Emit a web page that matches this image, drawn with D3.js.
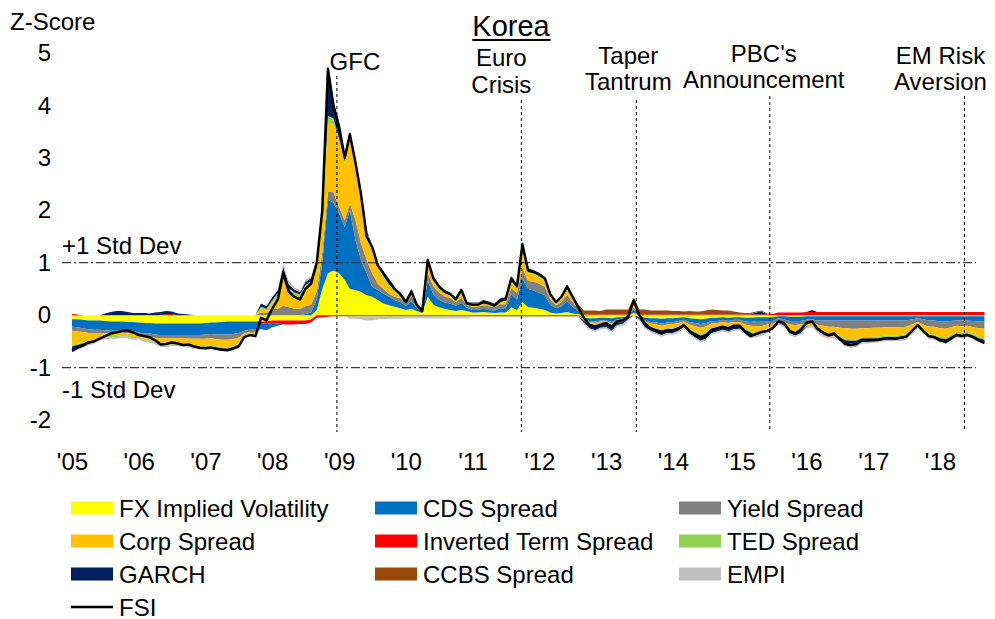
<!DOCTYPE html>
<html>
<head>
<meta charset="utf-8">
<script src="https://cdn.jsdelivr.net/npm/d3@7"></script>
<style>
  body { margin: 0; background: #fff; }
  text { font-family: "Liberation Sans", Arial, sans-serif; fill: #000; }
</style>
</head>
<body>
<svg id="chart" width="995" height="619"></svg>
<script>
///////// Monthly readings, Jan 2005 .. Sep 2018 (one row per year)
var fxVol = [
  -0.08,-0.08,-0.09,-0.10,-0.10,-0.10,-0.11,-0.12,-0.12,-0.12,-0.13,-0.13,
  -0.14,-0.15,-0.15,-0.16,-0.16,-0.16,-0.16,-0.16,-0.16,-0.16,-0.16,-0.16,
  -0.15,-0.14,-0.14,-0.13,-0.12,-0.12,-0.12,-0.12,-0.12,-0.12,-0.12,-0.12,
  -0.10,-0.10,-0.10,-0.10,-0.10,-0.10,-0.10,-0.08,0.10,0.50,0.80,0.85,
  0.80,0.67,0.50,0.48,0.44,0.38,0.35,0.29,0.22,0.19,0.16,0.13,
  0.10,0.12,0.08,0.04,0.35,0.20,0.15,0.12,0.10,0.08,0.10,0.08,
  0.05,0.05,0.06,0.05,0.04,0.05,0.05,0.15,0.10,0.25,0.15,0.14,
  0.12,0.10,0.05,0.03,0.04,0.06,0.03,0.02,-0.05,-0.06,-0.06,-0.05,
  -0.05,-0.06,-0.04,-0.04,-0.02,0.04,-0.02,-0.05,-0.06,-0.06,-0.07,-0.06,
  -0.06,-0.05,-0.04,-0.06,-0.07,-0.08,-0.07,-0.05,-0.05,-0.04,-0.05,-0.04,
  -0.04,-0.05,-0.05,-0.04,-0.04,-0.04,-0.04,-0.02,-0.02,-0.03,-0.03,-0.03,
  -0.02,-0.02,-0.02,-0.02,-0.02,-0.02,-0.02,-0.02,-0.02,-0.02,-0.02,-0.02,
  -0.02,-0.02,-0.02,-0.02,-0.02,-0.02,-0.02,-0.02,-0.02,-0.02,-0.02,-0.02,
  -0.02,-0.02,-0.02,-0.02,-0.02,-0.02,-0.02,-0.02,-0.02
]
var termSpread = [
  0.02,0.01,0,0,0,0,0,0,0,0,0,0,
  0,0,0,0,0,0.02,0.02,0,0,0,0,0,
  0,0,0,0,0,0,0,0,0,0,-0.03,-0.05,
  -0.05,-0.06,-0.08,-0.08,-0.08,-0.07,-0.07,-0.06,-0.05,-0.04,-0.03,-0.02,
  -0.02,-0.02,-0.02,-0.02,-0.02,-0.02,-0.02,-0.02,-0.02,-0.02,-0.02,-0.02,
  -0.02,-0.02,-0.02,-0.02,-0.02,-0.02,-0.02,-0.02,-0.02,-0.02,-0.02,-0.02,
  -0.02,-0.02,-0.02,-0.02,-0.02,-0.02,-0.02,-0.02,-0.02,-0.02,-0.02,-0.02,
  -0.02,-0.02,-0.02,-0.02,-0.02,-0.02,-0.02,-0.02,0.01,0.01,0.01,0.01,
  0.01,0.01,0.01,0.01,0.01,0.01,0.01,0.01,0.01,0.01,0.01,0.01,
  0.01,0.01,0.01,0.01,0.01,0.01,0.01,0.01,0.01,0.01,0.01,0.01,
  0.01,0.01,0.01,0.01,0.01,0.01,0.02,0.05,0.05,0.05,0.05,0.05,
  0.06,0.06,0.06,0.06,0.06,0.06,0.06,0.06,0.06,0.06,0.06,0.06,
  0.06,0.06,0.06,0.06,0.06,0.06,0.06,0.06,0.06,0.06,0.06,0.06,
  0.06,0.06,0.06,0.06,0.06,0.06,0.06,0.06,0.06
]
var cdsSpread = [
  -0.14,-0.15,-0.16,-0.17,-0.18,-0.18,-0.18,-0.18,-0.18,-0.17,-0.16,-0.17,
  -0.19,-0.20,-0.20,-0.21,-0.22,-0.22,-0.22,-0.22,-0.22,-0.22,-0.22,-0.22,
  -0.22,-0.22,-0.23,-0.24,-0.25,-0.24,-0.22,-0.18,-0.16,-0.16,-0.12,-0.12,
  -0.08,-0.04,0.00,0.00,0.00,0.00,0.02,0.05,0.20,0.50,1.40,1.30,
  1.14,1.01,1.50,0.95,0.61,0.42,0.19,0.19,0.19,0.16,0.13,0.12,
  0.08,0.15,0.06,0.03,0.30,0.20,0.15,0.12,0.12,0.10,0.13,0.06,
  0.05,0.05,0.06,0.05,0.05,0.08,0.08,0.25,0.20,0.45,0.35,0.33,
  0.30,0.28,0.15,0.10,0.13,0.20,0.13,0.06,-0.03,-0.05,-0.06,-0.05,
  -0.05,-0.07,-0.04,-0.03,-0.01,0.06,-0.01,-0.05,-0.07,-0.08,-0.09,-0.08,
  -0.07,-0.06,-0.05,-0.07,-0.08,-0.09,-0.08,-0.06,-0.06,-0.05,-0.06,-0.05,
  -0.05,-0.07,-0.08,-0.07,-0.07,-0.07,-0.07,-0.04,-0.06,-0.08,-0.08,-0.08,
  -0.07,-0.06,-0.08,-0.08,-0.08,-0.08,-0.08,-0.08,-0.08,-0.08,-0.08,-0.08,
  -0.08,-0.08,-0.08,-0.08,-0.08,-0.08,-0.08,-0.06,-0.04,-0.06,-0.08,-0.08,
  -0.10,-0.10,-0.09,-0.08,-0.08,-0.08,-0.09,-0.10,-0.10
]
var yieldSpread = [
  -0.08,-0.08,-0.07,-0.07,-0.06,-0.06,-0.05,-0.05,-0.05,-0.05,-0.05,-0.06,
  -0.06,-0.06,-0.06,-0.06,-0.06,-0.06,-0.06,-0.06,-0.06,-0.07,-0.07,-0.07,
  -0.08,-0.08,-0.09,-0.10,-0.10,-0.10,-0.09,-0.05,-0.04,-0.04,0.05,0.04,
  0.12,0.12,0.18,0.15,0.12,0.12,0.15,0.15,0.15,0.20,0.15,0.20,
  0.12,0.13,0.13,0.38,0.32,0.25,0.26,0.12,0.09,0.06,0.06,0.07,
  0.06,0.10,0.05,0.02,0.15,0.15,0.13,0.12,0.10,0.07,0.10,0.05,
  0.06,0.06,0.07,0.07,0.06,0.08,0.08,0.12,0.12,0.20,0.15,0.17,
  0.18,0.16,0.10,0.06,0.08,0.13,0.09,0.05,0.00,-0.02,-0.03,-0.02,
  -0.02,-0.03,-0.02,-0.02,0.00,0.04,0.00,-0.02,-0.03,-0.04,-0.04,-0.04,
  -0.04,-0.04,-0.03,-0.05,-0.06,-0.07,-0.06,-0.05,-0.04,-0.04,-0.04,-0.04,
  -0.04,-0.06,-0.07,-0.10,-0.10,-0.07,-0.06,-0.05,-0.05,-0.07,-0.08,-0.07,
  -0.06,-0.06,-0.08,-0.10,-0.12,-0.12,-0.14,-0.15,-0.16,-0.16,-0.15,-0.15,
  -0.14,-0.14,-0.13,-0.13,-0.13,-0.13,-0.12,-0.10,-0.07,-0.10,-0.12,-0.12,
  -0.13,-0.14,-0.12,-0.10,-0.11,-0.10,-0.12,-0.13,-0.14
]
var corpSpread = [
  -0.28,-0.24,-0.20,-0.15,-0.14,-0.10,-0.07,-0.05,-0.05,-0.04,-0.05,-0.06,
  -0.02,-0.05,-0.06,-0.08,-0.12,-0.12,-0.10,-0.10,-0.12,-0.12,-0.14,-0.15,
  -0.14,-0.14,-0.14,-0.14,-0.15,-0.13,-0.12,-0.04,-0.03,-0.05,0.08,0.05,
  0.12,0.24,0.55,0.30,0.25,0.23,0.34,0.39,0.40,0.60,1.30,1.30,
  1.27,1.09,1.27,1.14,1.01,0.55,0.44,0.32,0.20,0.13,0.09,0.06,
  0.03,0.06,0.03,0.01,0.15,0.10,0.08,0.06,0.05,0.03,0.08,0.02,
  0.04,0.04,0.05,0.04,0.03,0.05,0.07,0.12,0.10,0.30,0.15,0.14,
  0.12,0.10,0.06,0.04,0.06,0.10,0.06,0.03,-0.02,-0.05,-0.06,-0.05,
  -0.04,-0.06,-0.03,-0.03,-0.01,0.05,-0.01,-0.04,-0.06,-0.07,-0.08,-0.07,
  -0.08,-0.07,-0.05,-0.08,-0.10,-0.12,-0.11,-0.08,-0.07,-0.07,-0.07,-0.06,
  -0.06,-0.08,-0.10,-0.15,-0.14,-0.09,-0.05,-0.03,-0.03,-0.10,-0.12,-0.10,
  -0.05,-0.05,-0.08,-0.12,-0.14,-0.12,-0.16,-0.20,-0.20,-0.20,-0.17,-0.17,
  -0.17,-0.17,-0.16,-0.16,-0.16,-0.15,-0.14,-0.10,-0.06,-0.10,-0.14,-0.15,
  -0.16,-0.17,-0.15,-0.12,-0.13,-0.12,-0.13,-0.16,-0.18
]
var tedSpread = [
  -0.02,-0.02,-0.02,-0.02,-0.02,-0.02,-0.02,-0.02,-0.02,-0.02,-0.02,-0.02,
  -0.02,-0.02,-0.02,-0.02,-0.02,-0.02,-0.02,-0.02,-0.02,-0.02,-0.02,-0.02,
  -0.02,-0.02,-0.02,-0.02,-0.02,-0.02,-0.02,-0.02,-0.02,-0.02,0.03,0.03,
  0.04,0.06,0.08,0.06,0.06,0.05,0.06,0.06,0.08,0.10,0.15,0.10,
  0.05,0.04,0.03,0.03,0.03,0.03,0.04,0.03,0.04,0.05,0.04,0.03,
  0.03,0.03,0.02,0.02,0.04,0.04,0.04,0.04,0.04,0.04,0.04,0.03,
  0.03,0.03,0.03,0.03,0.03,0.03,0.03,0.04,0.04,0.05,0.05,0.04,
  0.04,0.04,0.03,0.03,0.03,0.04,0.03,0.02,0.00,-0.01,-0.01,-0.01,
  -0.01,-0.01,-0.01,-0.01,-0.01,0.02,-0.01,-0.01,-0.01,-0.01,-0.01,-0.01,
  -0.02,-0.02,-0.01,-0.02,-0.02,-0.03,-0.03,-0.02,-0.02,-0.02,-0.02,-0.02,
  -0.02,-0.02,-0.03,-0.03,-0.02,-0.02,-0.02,-0.01,-0.02,-0.02,-0.02,-0.02,
  -0.01,-0.01,-0.02,-0.02,-0.02,-0.02,-0.02,-0.03,-0.03,-0.03,-0.02,-0.02,
  -0.03,-0.03,-0.03,-0.03,-0.03,-0.03,-0.03,-0.02,-0.02,-0.02,-0.03,-0.03,
  -0.03,-0.03,-0.03,-0.03,-0.03,-0.03,-0.03,-0.03,-0.03
]
var garch = [
  -0.08,-0.06,-0.05,-0.04,-0.02,0.00,0.03,0.06,0.08,0.08,0.06,0.04,
  0.04,0.04,0.03,0.05,0.06,0.06,0.05,0.03,0.02,0.01,0.00,-0.01,
  -0.02,-0.02,-0.02,-0.03,-0.03,-0.03,-0.03,0.00,0.00,0.00,0.06,0.05,
  0.06,0.06,0.12,0.08,0.06,0.04,0.06,0.06,0.12,0.15,0.90,0.30,
  0.20,0.10,0.05,0.00,0.00,0.00,0.05,0.02,0.06,0.06,0.04,0.03,
  0.00,0.04,0.00,0.00,0.10,0.05,0.03,0.02,0.02,0.01,0.06,0.01,
  0.01,0.01,0.02,0.02,0.01,0.03,0.03,0.06,0.03,0.15,0.04,0.04,
  0.04,0.04,0.03,0.01,0.03,0.04,0.03,0.00,-0.05,-0.06,-0.07,-0.06,
  -0.06,-0.07,-0.05,-0.04,-0.03,0.04,-0.03,-0.06,-0.07,-0.08,-0.09,-0.08,
  -0.07,-0.06,-0.05,-0.07,-0.09,-0.10,-0.10,-0.08,-0.07,-0.06,-0.07,-0.06,
  -0.05,-0.07,-0.08,0.04,0.06,-0.02,-0.02,0.00,-0.02,-0.05,-0.06,-0.04,
  -0.01,0.04,-0.02,-0.03,-0.03,-0.03,-0.04,-0.05,-0.05,-0.04,-0.04,-0.04,
  -0.03,-0.03,-0.03,-0.03,-0.03,-0.03,-0.03,-0.02,-0.01,-0.02,-0.03,-0.03,
  -0.04,-0.05,-0.04,-0.03,-0.03,-0.03,-0.03,-0.04,-0.05
]
var ccbsSpread = [
  0,0,0,0,0,0,0,0,0,0,0,0,
  0,0,0,0,0,0,0,0,0,0,0,0,
  0,0,0,0,0,0,0,0,0,0,0,0,
  0,0,0,0,0,0,0,0,0,0,0,0,
  0,0,0,0,0,0,0,0,0,0,0,0,
  0,0,0,0,0,0,0,0,0,0,0,0,
  0,0,0,0,0,0,0,0,0,0,0,0,
  0,0,0,0,0,0,0.02,0.03,0.08,0.08,0.08,0.07,
  0.10,0.10,0.10,0.10,0.10,0.08,0.10,0.10,0.08,0.08,0.08,0.08,
  0.07,0.07,0.06,0.07,0.06,0.06,0.08,0.10,0.09,0.08,0.08,0.06,
  0.04,0.03,0.03,0.02,0.02,0.02,0,0,0,0,0,0,
  0,0,0,-0.01,-0.01,-0.01,-0.02,-0.04,-0.05,-0.05,-0.03,-0.03,
  -0.03,-0.02,-0.02,-0.02,-0.02,-0.02,-0.02,-0.01,-0.01,-0.01,-0.01,-0.01,
  -0.01,-0.01,-0.01,-0.01,-0.01,-0.01,-0.01,-0.01,-0.01
]
var empi = [
  -0.03,-0.03,-0.03,-0.03,-0.03,-0.03,-0.03,-0.03,-0.03,-0.03,-0.03,-0.03,
  -0.03,-0.03,-0.03,-0.03,-0.03,-0.03,-0.03,-0.03,-0.03,-0.03,-0.03,-0.03,
  -0.02,-0.02,-0.02,-0.02,-0.02,-0.02,-0.02,-0.02,-0.02,-0.02,0.00,0.00,
  0.00,0.02,0.05,0.05,0.04,0.03,0.04,0.03,0.04,0.05,0.10,0.05,
  0.02,0.00,-0.05,-0.05,-0.06,-0.08,-0.08,-0.06,-0.06,-0.05,-0.05,-0.05,
  -0.04,-0.04,-0.04,-0.04,-0.04,-0.04,-0.04,-0.04,-0.04,-0.04,-0.04,-0.04,
  -0.02,-0.02,-0.02,-0.02,-0.02,-0.02,-0.02,-0.02,-0.02,-0.03,-0.02,-0.02,
  -0.02,-0.02,-0.02,-0.02,-0.02,-0.02,-0.02,-0.02,-0.03,-0.03,-0.03,-0.03,
  -0.03,-0.03,-0.03,-0.03,-0.03,0.00,-0.03,-0.03,-0.03,-0.03,-0.03,-0.03,
  -0.03,-0.03,-0.03,-0.03,-0.03,-0.03,-0.03,-0.03,-0.03,-0.03,-0.03,-0.03,
  -0.03,-0.03,-0.03,-0.03,-0.03,-0.03,-0.03,-0.03,-0.03,-0.03,-0.03,-0.03,
  -0.03,-0.03,-0.03,-0.03,-0.03,-0.03,-0.03,-0.03,-0.03,-0.03,-0.03,-0.03,
  -0.03,-0.03,-0.03,-0.03,-0.03,-0.03,-0.03,-0.03,-0.03,-0.03,-0.03,-0.03,
  -0.03,-0.03,-0.03,-0.03,-0.03,-0.03,-0.03,-0.03,-0.03
]
var fsi = [
  -0.68,-0.62,-0.58,-0.52,-0.50,-0.45,-0.40,-0.35,-0.33,-0.30,-0.29,-0.33,
  -0.38,-0.40,-0.42,-0.48,-0.56,-0.55,-0.52,-0.54,-0.57,-0.56,-0.60,-0.62,
  -0.63,-0.62,-0.64,-0.66,-0.67,-0.64,-0.60,-0.42,-0.38,-0.40,-0.05,-0.10,
  0.12,0.30,0.80,0.45,0.35,0.30,0.50,0.60,1.00,2.00,4.70,4.00,
  3.60,3.00,3.45,2.90,2.30,1.50,1.30,0.95,0.80,0.65,0.50,0.40,
  0.25,0.45,0.20,0.08,1.05,0.70,0.55,0.45,0.40,0.30,0.48,0.22,
  0.20,0.20,0.25,0.22,0.18,0.28,0.30,0.70,0.55,1.35,0.85,0.82,
  0.78,0.70,0.40,0.25,0.35,0.55,0.35,0.15,-0.05,-0.18,-0.22,-0.18,
  -0.15,-0.22,-0.12,-0.10,-0.03,0.28,0.00,-0.16,-0.25,-0.30,-0.35,-0.30,
  -0.29,-0.25,-0.19,-0.30,-0.38,-0.44,-0.40,-0.28,-0.25,-0.22,-0.25,-0.20,
  -0.20,-0.32,-0.40,-0.36,-0.32,-0.30,-0.25,-0.12,-0.15,-0.30,-0.35,-0.28,
  -0.15,-0.12,-0.25,-0.33,-0.38,-0.35,-0.45,-0.55,-0.57,-0.55,-0.48,-0.48,
  -0.48,-0.47,-0.45,-0.44,-0.45,-0.43,-0.41,-0.30,-0.19,-0.30,-0.40,-0.42,
  -0.48,-0.51,-0.45,-0.38,-0.40,-0.38,-0.42,-0.48,-0.53
]

var yTicks = [-2, -1, 0, 1, 2, 3, 4, 5]

// stacking order (nearest to zero first); the legend has its own order below
var components = [
  { key: "fx",    name: "FX Implied Volatility", color: "#FFFF00", values: fxVol },
  { key: "term",  name: "Inverted Term Spread",  color: "#FF0000", values: termSpread },
  { key: "cds",   name: "CDS Spread",            color: "#0070C0", values: cdsSpread },
  { key: "yield", name: "Yield Spread",          color: "#808080", values: yieldSpread },
  { key: "corp",  name: "Corp Spread",           color: "#FFC000", values: corpSpread },
  { key: "ted",   name: "TED Spread",            color: "#92D050", values: tedSpread },
  { key: "garch", name: "GARCH",                 color: "#002060", values: garch },
  { key: "ccbs",  name: "CCBS Spread",           color: "#984807", values: ccbsSpread },
  { key: "empi",  name: "EMPI",                  color: "#BFBFBF", values: empi }
]

var events = [
  { date: new Date(2008, 11, 20), top: 76,  lines: ["GFC"],                   ys: [70],     dx: 18 },
  { date: new Date(2011, 8, 25),  top: 100, lines: ["Euro", "Crisis"],        ys: [66, 93], dx: -20 },
  { date: new Date(2013, 5, 15),  top: 100, lines: ["Taper", "Tantrum"],      ys: [64, 90], dx: -8 },
  { date: new Date(2015, 5, 15),  top: 96,  lines: ["PBC's", "Announcement"], ys: [62, 88], dx: -6 },
  { date: new Date(2018, 4, 15),  top: 96,  lines: ["EM Risk", "Aversion"],   ys: [64, 90], dx: -24 }
]

var months = d3.timeMonth.range(new Date(2005, 0, 1), new Date(2018, 9, 1))

// each component is split into its positive and negative part so the
// diverging stack never draws a band that jumps across the zero line
var rows = months.map(function (d, i) {
  var r = { date: d, fsi: fsi[i] }
  components.forEach(function (c) {
    r[c.key + "_p"] = Math.max(c.values[i], 0)
    r[c.key + "_n"] = Math.min(c.values[i], 0)
  })
  return r
})

var keys = []
components.forEach(function (c) { keys.push(c.key + "_p", c.key + "_n") })

var svg = d3.select("#chart")

var x = d3.scaleTime()
  .domain([new Date(2005, 0, 1), new Date(2018, 0, 1)])
  .range([72, 940])
var y = d3.scaleLinear().domain([-2, 5]).range([420, 53])

///////// Stacked components (positives up, negatives down)
var series = d3.stack().keys(keys).offset(d3.stackOffsetDiverging)(rows)

// empty points sit on the running edge of their own side
rows.forEach(function (r, i) {
  var top = 0, bot = 0
  series.forEach(function (s) {
    var p = s[i]
    var pos = s.key.slice(-2) === "_p"
    if (p[1] - p[0] === 0) {
      p[0] = p[1] = pos ? top : bot
    } else if (pos) { top = p[1] } else { bot = p[0] }
  })
})

var colorOf = {}
components.forEach(function (c) { colorOf[c.key] = c.color })

var area = d3.area()
  .x(function (d) { return x(d.data.date) })
  .y0(function (d) { return y(d[0]) })
  .y1(function (d) { return y(d[1]) })

svg.append("g").selectAll("path")
  .data(series)
  .enter().append("path")
  .attr("fill", function (s) { return colorOf[s.key.slice(0, -2)] })
  .attr("d", area)

///////// Std dev guides
svg.append("g").selectAll("line")
  .data([1, -1])
  .enter().append("line")
  .attr("x1", 62).attr("x2", 976)
  .attr("y1", function (d) { return y(d) })
  .attr("y2", function (d) { return y(d) })
  .attr("stroke", "#3a3a3a")
  .attr("stroke-width", 1.2)
  .attr("stroke-dasharray", "9,3,2,3")

svg.append("text").attr("x", 62).attr("y", 254).attr("font-size", 24).text("+1 Std Dev")
svg.append("text").attr("x", 62).attr("y", 398).attr("font-size", 24).text("-1 Std Dev")

///////// Event markers
var ev = svg.append("g").selectAll("g").data(events).enter().append("g")
ev.append("line")
  .attr("x1", function (d) { return x(d.date) })
  .attr("x2", function (d) { return x(d.date) })
  .attr("y1", function (d) { return d.top })
  .attr("y2", 432)
  .attr("stroke", "#000")
  .attr("stroke-width", 1)
  .attr("stroke-dasharray", "3,3")
ev.each(function (d) {
  var g = d3.select(this)
  d.lines.forEach(function (t, k) {
    g.append("text")
      .attr("x", x(d.date) + d.dx).attr("y", d.ys[k])
      .attr("text-anchor", "middle")
      .attr("font-size", 24)
      .text(t)
  })
})

///////// FSI line
var line = d3.line()
  .x(function (d) { return x(d.date) })
  .y(function (d) { return y(d.fsi) })

svg.append("path")
  .datum(rows)
  .attr("fill", "none")
  .attr("stroke", "#000")
  .attr("stroke-width", 2.5)
  .attr("stroke-linejoin", "round")
  .attr("d", line)

///////// Axes (labels only)
var yAxis = svg.append("g")
  .attr("transform", "translate(57,0)")
  .call(d3.axisLeft(y).tickValues(yTicks).tickSize(0).tickPadding(6)
    .tickFormat(function (d) { return String(d) }))
yAxis.select(".domain").remove()
yAxis.attr("font-size", 24).attr("font-family", null)

var xAxis = svg.append("g")
  .attr("transform", "translate(0,440)")
  .call(d3.axisBottom(x).ticks(d3.timeYear.every(1)).tickSize(0).tickPadding(13)
    .tickFormat(d3.timeFormat("'%y")))
xAxis.select(".domain").remove()
xAxis.attr("font-size", 24).attr("font-family", null)

///////// Titles
svg.append("text").attr("x", 10).attr("y", 30).attr("font-size", 24).text("Z-Score")
var title = svg.append("text")
  .attr("x", 511).attr("y", 36)
  .attr("text-anchor", "middle")
  .attr("font-size", 29)
  .text("Korea")
var tb = title.node().getBBox()
svg.append("line")
  .attr("x1", tb.x).attr("x2", tb.x + tb.width)
  .attr("y1", 40).attr("y2", 40)
  .attr("stroke", "#000").attr("stroke-width", 2)

///////// Legend
var legendCols = [71, 375, 679]
var legendRows = [508, 541, 574, 607]
var legendItems = [
  ["fx", 0, 0], ["cds", 1, 0], ["yield", 2, 0],
  ["corp", 0, 1], ["term", 1, 1], ["ted", 2, 1],
  ["garch", 0, 2], ["ccbs", 1, 2], ["empi", 2, 2]
]
var legend = svg.append("g")
legendItems.forEach(function (it) {
  var c = components.filter(function (k) { return k.key === it[0] })[0]
  var lx = legendCols[it[1]], ly = legendRows[it[2]]
  legend.append("rect").attr("x", lx).attr("y", ly - 6.5)
    .attr("width", 42).attr("height", 13).attr("fill", c.color)
  legend.append("text").attr("x", lx + 48).attr("y", ly + 8.5)
    .attr("font-size", 24).text(c.name)
})
legend.append("line")
  .attr("x1", legendCols[0]).attr("x2", legendCols[0] + 42)
  .attr("y1", legendRows[3]).attr("y2", legendRows[3])
  .attr("stroke", "#000").attr("stroke-width", 2.5)
legend.append("text").attr("x", legendCols[0] + 48).attr("y", legendRows[3] + 8.5)
  .attr("font-size", 24).text("FSI")
</script>
</body>
</html>
